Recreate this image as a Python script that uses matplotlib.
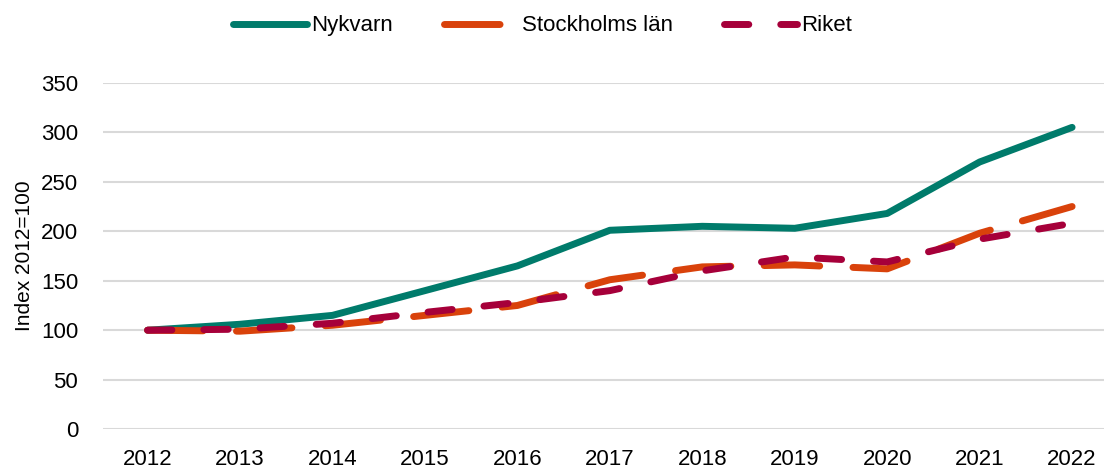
import matplotlib.pyplot as plt

plt.rcParams['font.family'] = ['Liberation Sans', 'DejaVu Sans']

years = [2012, 2013, 2014, 2015, 2016, 2017, 2018, 2019, 2020, 2021, 2022]
nykvarn = [100, 106, 115, 140, 165, 201, 205, 203, 218, 270, 305]
stockholm = [100, 99, 105, 115, 125, 151, 164, 166, 162, 198, 225]
riket = [100, 101, 107, 118, 128, 140, 160, 174, 169, 192, 208]

fig = plt.figure(figsize=(11.1, 4.68), dpi=100)
ax = fig.add_axes([0.093, 0.083, 0.902, 0.74])

ax.plot(years, nykvarn, color='#007B6B', lw=5, solid_capstyle='round',
        solid_joinstyle='round', label='Nykvarn')
ax.plot(years, stockholm, color='#D9420B', lw=5, dashes=(8, 4.8),
        dash_capstyle='round', label='Stockholms län')
ax.plot(years, riket, color='#A6003A', lw=5, dashes=(3.5, 4.6),
        dash_capstyle='round', label='Riket')

ax.set_xlim(2011.52, 2022.35)
ax.set_ylim(0, 350)
ax.set_yticks(range(0, 351, 50))
ax.set_xticks(years)
ax.tick_params(axis='both', length=0, labelsize=16, colors='black')
ax.tick_params(axis='x', pad=14)
ax.tick_params(axis='y', pad=18)
ax.grid(axis='y', color='#D9D9D9', lw=1.5)
ax.set_axisbelow(True)
for s in ax.spines.values():
    s.set_visible(False)
ax.set_ylabel('Index 2012=100', fontsize=15, labelpad=5)

fig.legend(loc='upper center', bbox_to_anchor=(0.489, 1.01), ncol=3, frameon=False,
           fontsize=16, handlelength=3.3, columnspacing=2.3, handletextpad=0.2)

fig.savefig('out.png', dpi=100)
